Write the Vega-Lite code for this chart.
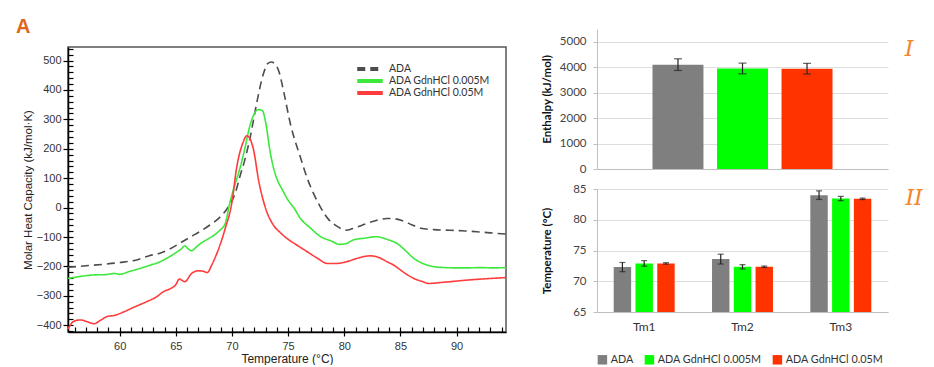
{
  "$schema": "https://vega.github.io/schema/vega-lite/v6.json",
  "padding": {"left": 16, "top": 17, "right": 0, "bottom": 0},
  "background": "white",
  "datasets": {
    "dsc": [
      {"sample": "ADA", "T": 55.4, "Cp": -203}, {"sample": "ADA", "T": 57, "Cp": -198}, {"sample": "ADA", "T": 58.5, "Cp": -193}, {"sample": "ADA", "T": 60, "Cp": -187}, {"sample": "ADA", "T": 61.5, "Cp": -178}, {"sample": "ADA", "T": 62.7, "Cp": -163}, {"sample": "ADA", "T": 63.6, "Cp": -155}, {"sample": "ADA", "T": 64.5, "Cp": -140}, {"sample": "ADA", "T": 65.5, "Cp": -118}, {"sample": "ADA", "T": 66.3, "Cp": -100}, {"sample": "ADA", "T": 67.2, "Cp": -80}, {"sample": "ADA", "T": 68.0, "Cp": -60}, {"sample": "ADA", "T": 69.0, "Cp": -30}, {"sample": "ADA", "T": 69.8, "Cp": 10}, {"sample": "ADA", "T": 70.3, "Cp": 50}, {"sample": "ADA", "T": 70.7, "Cp": 105}, {"sample": "ADA", "T": 71.2, "Cp": 170}, {"sample": "ADA", "T": 71.6, "Cp": 235}, {"sample": "ADA", "T": 72.2, "Cp": 355}, {"sample": "ADA", "T": 72.8, "Cp": 455}, {"sample": "ADA", "T": 73.2, "Cp": 490}, {"sample": "ADA", "T": 73.5, "Cp": 495}, {"sample": "ADA", "T": 73.9, "Cp": 485}, {"sample": "ADA", "T": 74.2, "Cp": 460}, {"sample": "ADA", "T": 74.6, "Cp": 395}, {"sample": "ADA", "T": 75.2, "Cp": 285}, {"sample": "ADA", "T": 76.1, "Cp": 170}, {"sample": "ADA", "T": 76.7, "Cp": 100}, {"sample": "ADA", "T": 77.3, "Cp": 45}, {"sample": "ADA", "T": 77.9, "Cp": 0}, {"sample": "ADA", "T": 78.6, "Cp": -40}, {"sample": "ADA", "T": 79.3, "Cp": -62}, {"sample": "ADA", "T": 80.2, "Cp": -77}, {"sample": "ADA", "T": 81.0, "Cp": -68}, {"sample": "ADA", "T": 82.0, "Cp": -54}, {"sample": "ADA", "T": 83.0, "Cp": -42}, {"sample": "ADA", "T": 83.8, "Cp": -37}, {"sample": "ADA", "T": 84.5, "Cp": -38}, {"sample": "ADA", "T": 85.2, "Cp": -45}, {"sample": "ADA", "T": 86.0, "Cp": -58}, {"sample": "ADA", "T": 86.8, "Cp": -70}, {"sample": "ADA", "T": 88.0, "Cp": -75}, {"sample": "ADA", "T": 89.4, "Cp": -77}, {"sample": "ADA", "T": 90.5, "Cp": -79}, {"sample": "ADA", "T": 91.8, "Cp": -82}, {"sample": "ADA", "T": 93.0, "Cp": -86}, {"sample": "ADA", "T": 94.4, "Cp": -90},
      {"sample": "ADA GdnHCl 0.005M", "T": 55.4, "Cp": -241}, {"sample": "ADA GdnHCl 0.005M", "T": 56.5, "Cp": -234}, {"sample": "ADA GdnHCl 0.005M", "T": 57.7, "Cp": -229}, {"sample": "ADA GdnHCl 0.005M", "T": 58.7, "Cp": -228}, {"sample": "ADA GdnHCl 0.005M", "T": 59.6, "Cp": -224}, {"sample": "ADA GdnHCl 0.005M", "T": 60.0, "Cp": -227}, {"sample": "ADA GdnHCl 0.005M", "T": 60.8, "Cp": -218}, {"sample": "ADA GdnHCl 0.005M", "T": 61.8, "Cp": -207}, {"sample": "ADA GdnHCl 0.005M", "T": 62.7, "Cp": -196}, {"sample": "ADA GdnHCl 0.005M", "T": 63.6, "Cp": -184}, {"sample": "ADA GdnHCl 0.005M", "T": 64.3, "Cp": -170}, {"sample": "ADA GdnHCl 0.005M", "T": 64.9, "Cp": -156}, {"sample": "ADA GdnHCl 0.005M", "T": 65.5, "Cp": -140}, {"sample": "ADA GdnHCl 0.005M", "T": 65.8, "Cp": -130}, {"sample": "ADA GdnHCl 0.005M", "T": 66.1, "Cp": -140}, {"sample": "ADA GdnHCl 0.005M", "T": 66.4, "Cp": -147}, {"sample": "ADA GdnHCl 0.005M", "T": 66.8, "Cp": -135}, {"sample": "ADA GdnHCl 0.005M", "T": 67.2, "Cp": -122}, {"sample": "ADA GdnHCl 0.005M", "T": 67.8, "Cp": -108}, {"sample": "ADA GdnHCl 0.005M", "T": 68.4, "Cp": -94}, {"sample": "ADA GdnHCl 0.005M", "T": 68.9, "Cp": -78}, {"sample": "ADA GdnHCl 0.005M", "T": 69.4, "Cp": -54}, {"sample": "ADA GdnHCl 0.005M", "T": 69.8, "Cp": 15}, {"sample": "ADA GdnHCl 0.005M", "T": 70.2, "Cp": 70}, {"sample": "ADA GdnHCl 0.005M", "T": 70.7, "Cp": 132}, {"sample": "ADA GdnHCl 0.005M", "T": 71.2, "Cp": 210}, {"sample": "ADA GdnHCl 0.005M", "T": 71.6, "Cp": 279}, {"sample": "ADA GdnHCl 0.005M", "T": 72.0, "Cp": 320}, {"sample": "ADA GdnHCl 0.005M", "T": 72.3, "Cp": 333}, {"sample": "ADA GdnHCl 0.005M", "T": 72.7, "Cp": 330}, {"sample": "ADA GdnHCl 0.005M", "T": 73.0, "Cp": 290}, {"sample": "ADA GdnHCl 0.005M", "T": 73.4, "Cp": 189}, {"sample": "ADA GdnHCl 0.005M", "T": 73.7, "Cp": 135}, {"sample": "ADA GdnHCl 0.005M", "T": 74.0, "Cp": 98}, {"sample": "ADA GdnHCl 0.005M", "T": 74.5, "Cp": 60}, {"sample": "ADA GdnHCl 0.005M", "T": 74.9, "Cp": 31}, {"sample": "ADA GdnHCl 0.005M", "T": 75.5, "Cp": 0}, {"sample": "ADA GdnHCl 0.005M", "T": 76.1, "Cp": -37}, {"sample": "ADA GdnHCl 0.005M", "T": 77.0, "Cp": -70}, {"sample": "ADA GdnHCl 0.005M", "T": 77.9, "Cp": -99}, {"sample": "ADA GdnHCl 0.005M", "T": 78.8, "Cp": -113}, {"sample": "ADA GdnHCl 0.005M", "T": 79.6, "Cp": -125}, {"sample": "ADA GdnHCl 0.005M", "T": 80.2, "Cp": -122}, {"sample": "ADA GdnHCl 0.005M", "T": 80.8, "Cp": -110}, {"sample": "ADA GdnHCl 0.005M", "T": 81.8, "Cp": -104}, {"sample": "ADA GdnHCl 0.005M", "T": 82.9, "Cp": -99}, {"sample": "ADA GdnHCl 0.005M", "T": 83.8, "Cp": -108}, {"sample": "ADA GdnHCl 0.005M", "T": 84.7, "Cp": -122}, {"sample": "ADA GdnHCl 0.005M", "T": 85.5, "Cp": -148}, {"sample": "ADA GdnHCl 0.005M", "T": 86.2, "Cp": -173}, {"sample": "ADA GdnHCl 0.005M", "T": 87.0, "Cp": -190}, {"sample": "ADA GdnHCl 0.005M", "T": 88.0, "Cp": -201}, {"sample": "ADA GdnHCl 0.005M", "T": 89.0, "Cp": -204}, {"sample": "ADA GdnHCl 0.005M", "T": 90.0, "Cp": -205}, {"sample": "ADA GdnHCl 0.005M", "T": 91.0, "Cp": -205}, {"sample": "ADA GdnHCl 0.005M", "T": 92.1, "Cp": -204}, {"sample": "ADA GdnHCl 0.005M", "T": 93.2, "Cp": -205}, {"sample": "ADA GdnHCl 0.005M", "T": 94.4, "Cp": -204},
      {"sample": "ADA GdnHCl 0.05M", "T": 55.4, "Cp": -413}, {"sample": "ADA GdnHCl 0.05M", "T": 55.9, "Cp": -387}, {"sample": "ADA GdnHCl 0.05M", "T": 56.5, "Cp": -382}, {"sample": "ADA GdnHCl 0.05M", "T": 57.1, "Cp": -388}, {"sample": "ADA GdnHCl 0.05M", "T": 57.7, "Cp": -395}, {"sample": "ADA GdnHCl 0.05M", "T": 58.3, "Cp": -383}, {"sample": "ADA GdnHCl 0.05M", "T": 58.9, "Cp": -370}, {"sample": "ADA GdnHCl 0.05M", "T": 59.5, "Cp": -367}, {"sample": "ADA GdnHCl 0.05M", "T": 60.4, "Cp": -354}, {"sample": "ADA GdnHCl 0.05M", "T": 61.2, "Cp": -340}, {"sample": "ADA GdnHCl 0.05M", "T": 61.8, "Cp": -330}, {"sample": "ADA GdnHCl 0.05M", "T": 62.4, "Cp": -320}, {"sample": "ADA GdnHCl 0.05M", "T": 63.3, "Cp": -303}, {"sample": "ADA GdnHCl 0.05M", "T": 63.9, "Cp": -286}, {"sample": "ADA GdnHCl 0.05M", "T": 64.6, "Cp": -274}, {"sample": "ADA GdnHCl 0.05M", "T": 65.0, "Cp": -262}, {"sample": "ADA GdnHCl 0.05M", "T": 65.3, "Cp": -243}, {"sample": "ADA GdnHCl 0.05M", "T": 65.8, "Cp": -252}, {"sample": "ADA GdnHCl 0.05M", "T": 66.4, "Cp": -224}, {"sample": "ADA GdnHCl 0.05M", "T": 67.0, "Cp": -215}, {"sample": "ADA GdnHCl 0.05M", "T": 67.4, "Cp": -216}, {"sample": "ADA GdnHCl 0.05M", "T": 67.8, "Cp": -221}, {"sample": "ADA GdnHCl 0.05M", "T": 68.2, "Cp": -195}, {"sample": "ADA GdnHCl 0.05M", "T": 68.6, "Cp": -161}, {"sample": "ADA GdnHCl 0.05M", "T": 69.0, "Cp": -120}, {"sample": "ADA GdnHCl 0.05M", "T": 69.4, "Cp": -71}, {"sample": "ADA GdnHCl 0.05M", "T": 70.0, "Cp": 19}, {"sample": "ADA GdnHCl 0.05M", "T": 70.4, "Cp": 132}, {"sample": "ADA GdnHCl 0.05M", "T": 71.0, "Cp": 223}, {"sample": "ADA GdnHCl 0.05M", "T": 71.3, "Cp": 244}, {"sample": "ADA GdnHCl 0.05M", "T": 71.5, "Cp": 240}, {"sample": "ADA GdnHCl 0.05M", "T": 71.9, "Cp": 200}, {"sample": "ADA GdnHCl 0.05M", "T": 72.4, "Cp": 87}, {"sample": "ADA GdnHCl 0.05M", "T": 73.0, "Cp": -3}, {"sample": "ADA GdnHCl 0.05M", "T": 73.7, "Cp": -60}, {"sample": "ADA GdnHCl 0.05M", "T": 74.3, "Cp": -85}, {"sample": "ADA GdnHCl 0.05M", "T": 74.9, "Cp": -105}, {"sample": "ADA GdnHCl 0.05M", "T": 75.8, "Cp": -128}, {"sample": "ADA GdnHCl 0.05M", "T": 76.7, "Cp": -150}, {"sample": "ADA GdnHCl 0.05M", "T": 77.6, "Cp": -172}, {"sample": "ADA GdnHCl 0.05M", "T": 78.5, "Cp": -190}, {"sample": "ADA GdnHCl 0.05M", "T": 79.3, "Cp": -190}, {"sample": "ADA GdnHCl 0.05M", "T": 80.2, "Cp": -184}, {"sample": "ADA GdnHCl 0.05M", "T": 81.2, "Cp": -172}, {"sample": "ADA GdnHCl 0.05M", "T": 82.3, "Cp": -164}, {"sample": "ADA GdnHCl 0.05M", "T": 83.1, "Cp": -170}, {"sample": "ADA GdnHCl 0.05M", "T": 83.8, "Cp": -184}, {"sample": "ADA GdnHCl 0.05M", "T": 84.5, "Cp": -198}, {"sample": "ADA GdnHCl 0.05M", "T": 85.0, "Cp": -212}, {"sample": "ADA GdnHCl 0.05M", "T": 85.6, "Cp": -228}, {"sample": "ADA GdnHCl 0.05M", "T": 86.2, "Cp": -241}, {"sample": "ADA GdnHCl 0.05M", "T": 87.0, "Cp": -252}, {"sample": "ADA GdnHCl 0.05M", "T": 87.5, "Cp": -258}, {"sample": "ADA GdnHCl 0.05M", "T": 88.5, "Cp": -255}, {"sample": "ADA GdnHCl 0.05M", "T": 89.4, "Cp": -252}, {"sample": "ADA GdnHCl 0.05M", "T": 90.5, "Cp": -248}, {"sample": "ADA GdnHCl 0.05M", "T": 91.8, "Cp": -244}, {"sample": "ADA GdnHCl 0.05M", "T": 93.0, "Cp": -241}, {"sample": "ADA GdnHCl 0.05M", "T": 94.4, "Cp": -238}
    ],
    "enthalpy": [
      {"sample": "ADA", "H": 4100, "lo": 3870, "hi": 4330},
      {"sample": "ADA GdnHCl 0.005M", "H": 3950, "lo": 3740, "hi": 4160},
      {"sample": "ADA GdnHCl 0.05M", "H": 3940, "lo": 3730, "hi": 4150}
    ],
    "tm": [
      {"Tm": "Tm1", "sample": "ADA", "T": 72.3, "lo": 71.55, "hi": 73.05},
      {"Tm": "Tm1", "sample": "ADA GdnHCl 0.005M", "T": 72.9, "lo": 72.45, "hi": 73.35},
      {"Tm": "Tm1", "sample": "ADA GdnHCl 0.05M", "T": 72.9, "lo": 72.78, "hi": 73.02},
      {"Tm": "Tm2", "sample": "ADA", "T": 73.6, "lo": 72.8, "hi": 74.4},
      {"Tm": "Tm2", "sample": "ADA GdnHCl 0.005M", "T": 72.35, "lo": 72.0, "hi": 72.7},
      {"Tm": "Tm2", "sample": "ADA GdnHCl 0.05M", "T": 72.35, "lo": 72.23, "hi": 72.47},
      {"Tm": "Tm3", "sample": "ADA", "T": 84.0, "lo": 83.3, "hi": 84.7},
      {"Tm": "Tm3", "sample": "ADA GdnHCl 0.005M", "T": 83.45, "lo": 83.1, "hi": 83.8},
      {"Tm": "Tm3", "sample": "ADA GdnHCl 0.05M", "T": 83.4, "lo": 83.28, "hi": 83.52}
    ]
  },
  "hconcat": [
    {
      "spacing": 9,
      "resolve": {"scale": {"color": "independent", "strokeDash": "independent"}},
      "vconcat": [
        {
          "width": 438,
          "height": 1,
          "title": {"text": "A", "anchor": "start", "dx": -52, "offset": -8, "font": "Liberation Sans", "fontSize": 20, "fontWeight": "bold", "color": "#e0661b"},
          "data": {"values": []},
          "mark": "rect"
        },
        {
          "width": 438,
          "height": 285,
          "data": {"name": "dsc"},
          "view": {"stroke": "#555555", "strokeWidth": 1.5},
          "layer": [
            {
              "mark": {"type": "line", "strokeWidth": 1.6, "interpolate": "monotone"},
              "encoding": {
                "x": {
                  "field": "T", "type": "quantitative",
                  "scale": {"domain": [55.4, 94.4], "nice": false, "zero": false},
                  "axis": {
                    "orient": "bottom", "title": "Temperature (°C)", "values": [60, 65, 70, 75, 80, 85, 90],
                    "tickSize": 4, "grid": false, "labelOverlap": false,
                    "domainColor": "#000000", "domainWidth": 1.5, "tickColor": "#000000", "tickWidth": 1.2,
                    "labelFont": "Liberation Sans", "labelFontSize": 11, "labelColor": "#333333", "labelPadding": 4,
                    "titleFont": "Liberation Sans", "titleFontSize": 12, "titleFontWeight": "normal", "titleColor": "#222222", "titlePadding": 2
                  }
                },
                "y": {
                  "field": "Cp", "type": "quantitative",
                  "scale": {"domain": [-423, 546], "nice": false, "zero": false},
                  "axis": {
                    "orient": "left", "title": "Molar Heat Capacity (kJ/mol·K)", "values": [-400, -300, -200, -100, 0, 100, 200, 300, 400, 500],
                    "tickSize": 5, "grid": false, "labelOverlap": false,
                    "domainColor": "#000000", "domainWidth": 1.5, "tickColor": "#000000", "tickWidth": 1.2,
                    "labelFont": "Liberation Sans", "labelFontSize": 11, "labelColor": "#333333", "labelPadding": 2,
                    "titleFont": "Liberation Sans", "titleFontSize": 11.5, "titleFontWeight": "normal", "titleColor": "#222222", "titlePadding": 3
                  }
                },
                "color": {
                  "field": "sample", "type": "nominal",
                  "scale": {"domain": ["ADA", "ADA GdnHCl 0.005M", "ADA GdnHCl 0.05M"], "range": ["#4d4d4d", "#3de83d", "#ff3b3b"]},
                  "legend": {"title": null, "orient": "top-right", "offset": 16, "symbolType": "stroke", "symbolSize": 650, "symbolStrokeWidth": 4, "clipHeight": 12, "labelFont": "Lato", "labelFontSize": 10.5, "labelColor": "#333333", "rowPadding": 0, "labelOffset": 4}
                },
                "strokeDash": {
                  "field": "sample", "type": "nominal",
                  "scale": {"domain": ["ADA", "ADA GdnHCl 0.005M", "ADA GdnHCl 0.05M"], "range": [[8, 5], [1, 0], [1, 0]]},
                  "legend": {"title": null, "orient": "top-right", "offset": 16, "symbolType": "stroke", "symbolSize": 650, "symbolStrokeWidth": 4, "clipHeight": 12, "labelFont": "Lato", "labelFontSize": 10.5, "labelColor": "#333333", "rowPadding": 0, "labelOffset": 4}
                }
              }
            },
            {
              "mark": {"type": "point", "opacity": 0},
              "encoding": {
                "x": {"field": "T", "type": "quantitative", "axis": null},
                "y": {"field": "Cp", "type": "quantitative", "axis": {"orient": "left", "offset": -5, "tickSize": 5, "values": [-420,-400,-380,-360,-340,-320,-300,-280,-260,-240,-220,-200,-180,-160,-140,-120,-100,-80,-60,-40,-20,0,20,40,60,80,100,120,140,160,180,200,220,240,260,280,300,320,340,360,380,400,420,440,460,480,500,520,540], "labels": false, "domain": false, "grid": false, "title": null, "tickColor": "#000000", "tickWidth": 1.2}}
              }
            },
            {
              "mark": {"type": "point", "opacity": 0},
              "encoding": {
                "x": {"field": "T", "type": "quantitative", "axis": {"orient": "bottom", "offset": -5, "tickSize": 5, "values": [56,57,58,59,60,61,62,63,64,65,66,67,68,69,70,71,72,73,74,75,76,77,78,79,80,81,82,83,84,85,86,87,88,89,90,91,92,93,94], "labels": false, "domain": false, "grid": false, "title": null, "tickColor": "#000000", "tickWidth": 1.2}},
                "y": {"field": "Cp", "type": "quantitative", "axis": null}
              }
            }
          ],
          "resolve": {"axis": {"x": "independent", "y": "independent"}}
        }
      ]
    },
    {
      "spacing": 8,
      "vconcat": [
        {
          "width": 291,
          "height": 140,
          "title": {"text": "I", "orient": "right", "anchor": "start", "angle": 0, "dy": 10, "font": "DejaVu Serif", "fontStyle": "italic", "fontSize": 22, "fontWeight": "normal", "color": "#f5842a", "offset": 8},
          "data": {"name": "enthalpy"},
          "encoding": {
            "x": {"field": "sample", "type": "nominal", "sort": null, "scale": {"paddingInner": 0.21, "paddingOuter": 0.86}, "axis": {"labels": false, "ticks": false, "title": null, "domainColor": "#bfbfbf"}}
          },
          "layer": [
            {
              "mark": {"type": "bar", "clip": true},
              "encoding": {
                "y": {"field": "H", "type": "quantitative", "scale": {"domain": [0, 5500], "nice": false},
                  "axis": {"title": "Enthalpy (kJ/mol)", "values": [0, 1000, 2000, 3000, 4000, 5000], "format": "d", "labelOverlap": false, "grid": true, "gridColor": "#dddddd", "domainColor": "#bfbfbf", "tickColor": "#bfbfbf", "tickSize": 4, "labelFont": "Lato", "labelFontSize": 11.5, "labelColor": "#444444", "labelPadding": 7, "titleFont": "Lato", "titleFontSize": 11.5, "titleFontWeight": "bold", "titleColor": "#111111", "titlePadding": 7}},
                "color": {"field": "sample", "type": "nominal",
                  "scale": {"domain": ["ADA", "ADA GdnHCl 0.005M", "ADA GdnHCl 0.05M"], "range": ["#7f7f7f", "#00ff00", "#ff3300"]},
                  "legend": {"title": null, "orient": "bottom", "direction": "horizontal", "symbolType": "square", "symbolSize": 90, "symbolStrokeWidth": 0, "labelFont": "Lato", "labelFontSize": 10.8, "labelColor": "#333333", "columnPadding": 10, "labelOffset": 3, "offset": 22}}
              }
            },
            {"mark": {"type": "rule", "color": "#222222", "strokeWidth": 1.2}, "encoding": {"y": {"field": "lo", "type": "quantitative", "axis": {"title": "Enthalpy (kJ/mol)", "values": [0, 1000, 2000, 3000, 4000, 5000], "format": "d", "labelOverlap": false, "grid": true, "gridColor": "#dddddd", "domainColor": "#bfbfbf", "tickColor": "#bfbfbf", "tickSize": 4, "labelFont": "Lato", "labelFontSize": 11.5, "labelColor": "#444444", "labelPadding": 7, "titleFont": "Lato", "titleFontSize": 11.5, "titleFontWeight": "bold", "titleColor": "#111111", "titlePadding": 7}}, "y2": {"field": "hi"}}},
            {"mark": {"type": "tick", "color": "#222222", "size": 8, "thickness": 1.2}, "encoding": {"y": {"field": "lo", "type": "quantitative", "axis": {"title": "Enthalpy (kJ/mol)", "values": [0, 1000, 2000, 3000, 4000, 5000], "format": "d", "labelOverlap": false, "grid": true, "gridColor": "#dddddd", "domainColor": "#bfbfbf", "tickColor": "#bfbfbf", "tickSize": 4, "labelFont": "Lato", "labelFontSize": 11.5, "labelColor": "#444444", "labelPadding": 7, "titleFont": "Lato", "titleFontSize": 11.5, "titleFontWeight": "bold", "titleColor": "#111111", "titlePadding": 7}}}},
            {"mark": {"type": "tick", "color": "#222222", "size": 8, "thickness": 1.2}, "encoding": {"y": {"field": "hi", "type": "quantitative", "axis": {"title": "Enthalpy (kJ/mol)", "values": [0, 1000, 2000, 3000, 4000, 5000], "format": "d", "labelOverlap": false, "grid": true, "gridColor": "#dddddd", "domainColor": "#bfbfbf", "tickColor": "#bfbfbf", "tickSize": 4, "labelFont": "Lato", "labelFontSize": 11.5, "labelColor": "#444444", "labelPadding": 7, "titleFont": "Lato", "titleFontSize": 11.5, "titleFontWeight": "bold", "titleColor": "#111111", "titlePadding": 7}}}}
          ]
        },
        {
          "width": 291,
          "height": 123,
          "title": {"text": "II", "orient": "right", "anchor": "start", "angle": 0, "dy": 5, "font": "DejaVu Serif", "fontStyle": "italic", "fontSize": 22, "fontWeight": "normal", "color": "#f5842a", "offset": 0},
          "data": {"name": "tm"},
          "encoding": {
            "x": {"field": "Tm", "type": "nominal", "sort": null, "scale": {"paddingInner": 0.38, "paddingOuter": 0.17}, "axis": {"labelAngle": 0, "ticks": false, "title": null, "domainColor": "#bfbfbf", "labelFont": "Lato", "labelFontSize": 12, "labelColor": "#333333", "labelPadding": 9}},
            "xOffset": {"field": "sample", "type": "nominal", "sort": null, "scale": {"paddingInner": 0.2, "paddingOuter": 0}}
          },
          "layer": [
            {
              "mark": {"type": "bar", "clip": true},
              "encoding": {
                "y": {"field": "T", "type": "quantitative", "scale": {"domain": [65, 85], "nice": false, "zero": false},
                  "axis": {"title": "Temperature (°C)", "values": [65, 70, 75, 80, 85], "labelOverlap": false, "grid": true, "gridColor": "#dddddd", "domainColor": "#bfbfbf", "tickColor": "#bfbfbf", "tickSize": 4, "labelFont": "Lato", "labelFontSize": 11.5, "labelColor": "#444444", "labelPadding": 7, "titleFont": "Lato", "titleFontSize": 11.5, "titleFontWeight": "bold", "titleColor": "#111111", "titlePadding": 20}},
                "color": {"field": "sample", "type": "nominal",
                  "scale": {"domain": ["ADA", "ADA GdnHCl 0.005M", "ADA GdnHCl 0.05M"], "range": ["#7f7f7f", "#00ff00", "#ff3300"]},
                  "legend": {"title": null, "orient": "bottom", "direction": "horizontal", "symbolType": "square", "symbolSize": 90, "symbolStrokeWidth": 0, "labelFont": "Lato", "labelFontSize": 10.8, "labelColor": "#333333", "columnPadding": 10, "labelOffset": 3, "offset": 22}}
              }
            },
            {"mark": {"type": "rule", "color": "#222222", "strokeWidth": 1.2}, "encoding": {"y": {"field": "lo", "type": "quantitative", "axis": {"title": "Temperature (°C)", "values": [65, 70, 75, 80, 85], "labelOverlap": false, "grid": true, "gridColor": "#dddddd", "domainColor": "#bfbfbf", "tickColor": "#bfbfbf", "tickSize": 4, "labelFont": "Lato", "labelFontSize": 11.5, "labelColor": "#444444", "labelPadding": 7, "titleFont": "Lato", "titleFontSize": 11.5, "titleFontWeight": "bold", "titleColor": "#111111", "titlePadding": 20}}, "y2": {"field": "hi"}}},
            {"mark": {"type": "tick", "color": "#222222", "size": 6, "thickness": 1.2}, "encoding": {"y": {"field": "lo", "type": "quantitative", "axis": {"title": "Temperature (°C)", "values": [65, 70, 75, 80, 85], "labelOverlap": false, "grid": true, "gridColor": "#dddddd", "domainColor": "#bfbfbf", "tickColor": "#bfbfbf", "tickSize": 4, "labelFont": "Lato", "labelFontSize": 11.5, "labelColor": "#444444", "labelPadding": 7, "titleFont": "Lato", "titleFontSize": 11.5, "titleFontWeight": "bold", "titleColor": "#111111", "titlePadding": 20}}}},
            {"mark": {"type": "tick", "color": "#222222", "size": 6, "thickness": 1.2}, "encoding": {"y": {"field": "hi", "type": "quantitative", "axis": {"title": "Temperature (°C)", "values": [65, 70, 75, 80, 85], "labelOverlap": false, "grid": true, "gridColor": "#dddddd", "domainColor": "#bfbfbf", "tickColor": "#bfbfbf", "tickSize": 4, "labelFont": "Lato", "labelFontSize": 11.5, "labelColor": "#444444", "labelPadding": 7, "titleFont": "Lato", "titleFontSize": 11.5, "titleFontWeight": "bold", "titleColor": "#111111", "titlePadding": 20}}}}
          ]
        }
      ]
    }
  ],
  "spacing": 31,
  "resolve": {"scale": {"color": "independent", "strokeDash": "independent"}, "legend": {"color": "independent", "strokeDash": "independent"}},
  "config": {"view": {"stroke": null}}
}
